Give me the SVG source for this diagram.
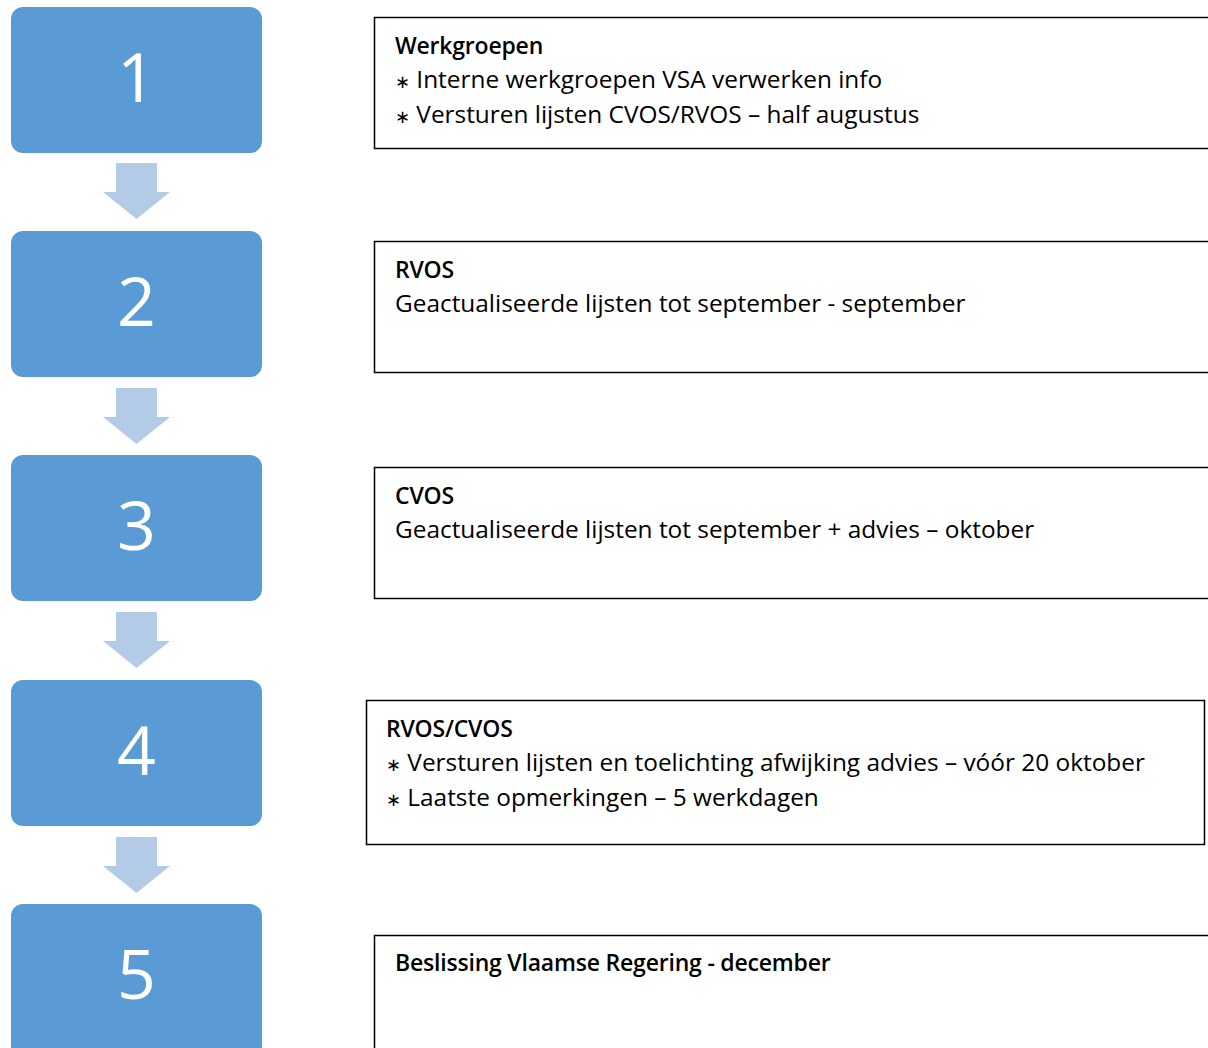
<svg xmlns="http://www.w3.org/2000/svg" width="1208" height="1048" viewBox="0 0 1208 1048">
<style>
.step{fill:#5B9BD5}
.num{fill:#fff;font-family:"Open Sans","Noto Sans",sans-serif;font-size:68px;text-anchor:middle}
.box{fill:#fff;stroke:#000;stroke-width:1.5}
.h{font-family:"Open Sans","Noto Sans",sans-serif;font-size:23px;font-weight:600;fill:#000;letter-spacing:-0.2px}
.t{font-family:"Open Sans","Noto Sans",sans-serif;font-size:24.4px;fill:#000}
.b{font-size:18px}
.arr{fill:#B4CBE8}
</style>
<rect width="1208" height="1048" fill="#fff"/>
<g id="connectors">
<path class="arr" d="M116,163 H157 V192 H170 L136.5,219 L103,192 H116 Z"/>
<path class="arr" d="M116,388 H157 V417 H170 L136.5,444 L103,417 H116 Z"/>
<path class="arr" d="M116,612 H157 V641 H170 L136.5,668 L103,641 H116 Z"/>
<path class="arr" d="M116,837 H157 V866 H170 L136.5,893 L103,866 H116 Z"/>
</g>
<g id="step1"><rect class="step" x="11" y="7" width="251" height="146" rx="12"/><text class="num" x="136.5" y="102">1</text></g>
<g id="step2"><rect class="step" x="11" y="231" width="251" height="146" rx="12"/><text class="num" x="136.5" y="326">2</text></g>
<g id="step3"><rect class="step" x="11" y="455" width="251" height="146" rx="12"/><text class="num" x="136.5" y="550">3</text></g>
<g id="step4"><rect class="step" x="11" y="680" width="251" height="146" rx="12"/><text class="num" x="136.5" y="775">4</text></g>
<g id="step5"><rect class="step" x="11" y="904" width="251" height="160" rx="12"/><text class="num" x="136.5" y="999">5</text></g>
<g id="info1"><rect class="box" x="374.5" y="17.5" width="850" height="131"/>
<text class="h" x="395" y="54">Werkgroepen</text>
<text class="t" x="395" y="88"><tspan class="b">∗</tspan> Interne werkgroepen VSA verwerken info</text>
<text class="t" x="395" y="123"><tspan class="b">∗</tspan> Versturen lijsten CVOS/RVOS – half augustus</text></g>
<g id="info2"><rect class="box" x="374.5" y="241.5" width="850" height="131"/>
<text class="h" x="395" y="278">RVOS</text>
<text class="t" x="395" y="312">Geactualiseerde lijsten tot september - september</text></g>
<g id="info3"><rect class="box" x="374.5" y="467.5" width="850" height="131"/>
<text class="h" x="395" y="504">CVOS</text>
<text class="t" x="395" y="538">Geactualiseerde lijsten tot september + advies – oktober</text></g>
<g id="info4"><rect class="box" x="366.5" y="700.5" width="838" height="144"/>
<text class="h" x="386" y="737">RVOS/CVOS</text>
<text class="t" x="386" y="771"><tspan class="b">∗</tspan> Versturen lijsten en toelichting afwijking advies – vóór 20 oktober</text>
<text class="t" x="386" y="806"><tspan class="b">∗</tspan> Laatste opmerkingen – 5 werkdagen</text></g>
<g id="info5"><rect class="box" x="374.5" y="935.5" width="850" height="131"/>
<text class="h" x="395" y="971">Beslissing Vlaamse Regering - december</text></g>
</svg>
